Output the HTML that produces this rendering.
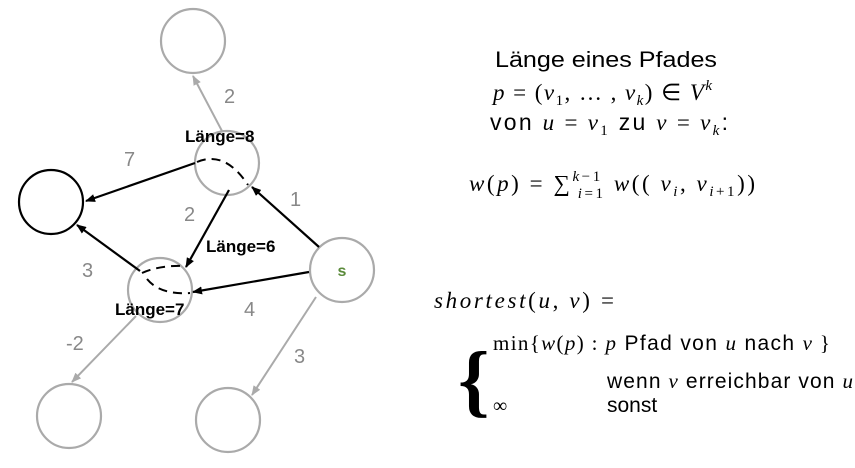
<!DOCTYPE html>
<html><head><meta charset="utf-8"><style>
body{margin:0;background:#fff;width:855px;height:463px;overflow:hidden}
svg text{font-family:"Liberation Sans",sans-serif}
.m{font-family:"Liberation Serif",serif;font-style:italic}
.r{font-family:"Liberation Serif",serif}
</style></head><body>
<svg width="855" height="463" viewBox="0 0 855 463">
<defs>
<marker id="ab" markerWidth="10" markerHeight="8" refX="9" refY="4" orient="auto" markerUnits="userSpaceOnUse"><path d="M0,0L10,4L0,8z" fill="#000"/></marker>
<marker id="ag" markerWidth="10" markerHeight="8" refX="9" refY="4" orient="auto" markerUnits="userSpaceOnUse"><path d="M0,0L10,4L0,8z" fill="#aaa"/></marker>
</defs>
<g fill="none" stroke="#aaa" stroke-width="2.2">
<circle cx="193" cy="41" r="32"/>
<circle cx="227" cy="163" r="32"/>
<circle cx="160" cy="290" r="32"/>
<circle cx="342" cy="270" r="32"/>
<circle cx="69" cy="416" r="32"/>
<circle cx="228" cy="420" r="32"/>
</g>
<circle cx="51" cy="202" r="32" fill="none" stroke="#000" stroke-width="2.2"/>
<g stroke="#aaa" stroke-width="2" marker-end="url(#ag)">
<line x1="222" y1="131" x2="193" y2="76"/>
<line x1="136" y1="316" x2="72" y2="382"/>
<line x1="316" y1="297" x2="252" y2="395"/>
</g>
<g stroke="#000" stroke-width="2.2" marker-end="url(#ab)">
<line x1="195" y1="163" x2="86" y2="201"/>
<line x1="319" y1="247" x2="252" y2="187"/>
<line x1="229" y1="190" x2="186" y2="267"/>
<line x1="140" y1="271" x2="77" y2="225"/>
<line x1="309" y1="272" x2="193" y2="292"/>
</g>
<g fill="none" stroke="#000" stroke-width="2" stroke-dasharray="9,6">
<path d="M197,162 Q225,150 248,185"/>
<path d="M142,273 Q160,265 184,266 M147,279 Q160,295 190,293"/>
</g>
<g fill="#888" font-size="20">
<text x="224" y="103">2</text>
<text x="124" y="166">7</text>
<text x="290" y="206">1</text>
<text x="184" y="221">2</text>
<text x="82" y="277">3</text>
<text x="244" y="316">4</text>
<text x="66" y="350">-2</text>
<text x="294" y="363">3</text>
</g>
<text x="342" y="276" font-size="16" font-weight="bold" fill="#5a8a3a" text-anchor="middle">s</text>
<g font-size="17" font-weight="bold" fill="#000">
<text x="185" y="142">Länge=8</text>
<text x="206" y="252">Länge=6</text>
<text x="115" y="315">Länge=7</text>
</g>
<g font-size="23" fill="#000">
<text x="495" y="67" font-size="22" textLength="222" lengthAdjust="spacingAndGlyphs">Länge eines Pfades</text>
<text x="493" y="100" textLength="219" lengthAdjust="spacing"><tspan class="m">p</tspan><tspan class="r"> = (</tspan><tspan class="m">v</tspan><tspan class="r" font-size="15" dy="5">1</tspan><tspan class="r" dy="-5">, … , </tspan><tspan class="m">v</tspan><tspan class="m" font-size="15" dy="5">k</tspan><tspan class="r" dy="-5">) ∈ </tspan><tspan class="m">V</tspan><tspan class="m" font-size="15" dy="-10">k</tspan></text>
<text x="490" y="130" textLength="238" lengthAdjust="spacing">von <tspan class="m">u</tspan><tspan class="r"> = </tspan><tspan class="m">v</tspan><tspan class="r" font-size="15" dy="5">1</tspan><tspan dy="-5"> zu </tspan><tspan class="m">v</tspan><tspan class="r"> = </tspan><tspan class="m">v</tspan><tspan class="m" font-size="15" dy="5">k</tspan><tspan dy="-5">:</tspan></text>
<text x="469" y="191" textLength="286" lengthAdjust="spacing"><tspan class="m">w</tspan><tspan class="r">(</tspan><tspan class="m">p</tspan><tspan class="r">) = ∑</tspan><tspan class="m" font-size="15" dy="-10">k</tspan><tspan class="r" font-size="15">−1</tspan><tspan class="m" font-size="15" dx="-25" dy="17">i</tspan><tspan class="r" font-size="15">=1</tspan><tspan class="m" dy="-7"> w</tspan><tspan class="r">((</tspan><tspan class="m"> v</tspan><tspan class="m" font-size="15" dy="5">i</tspan><tspan class="r" dy="-5">, </tspan><tspan class="m">v</tspan><tspan class="m" font-size="15" dy="5">i</tspan><tspan class="r" font-size="15">+1</tspan><tspan class="r" dy="-5">))</tspan></text>
</g>
<g font-size="23" fill="#000">
<text x="434" y="308" textLength="180" lengthAdjust="spacing"><tspan class="m">shortest</tspan><tspan class="r">(</tspan><tspan class="m">u</tspan><tspan class="r">, </tspan><tspan class="m">v</tspan><tspan class="r">) =</tspan></text>
<text x="458" y="407" class="r" font-size="80" font-weight="bold">{</text>
<text x="493" y="350" font-size="21" textLength="337" lengthAdjust="spacing"><tspan class="r">min{</tspan><tspan class="m">w</tspan><tspan class="r">(</tspan><tspan class="m">p</tspan><tspan class="r">) : </tspan><tspan class="m">p</tspan> Pfad von <tspan class="m">u</tspan> nach <tspan class="m">v</tspan><tspan class="r">  }</tspan></text>
<text x="607" y="388" font-size="21" textLength="246" lengthAdjust="spacing">wenn <tspan class="m">v</tspan> erreichbar von <tspan class="m">u</tspan></text>
<text x="493" y="412" class="r" font-size="20">∞</text>
<text x="607" y="412" font-size="21">sonst</text>
</g>
</svg>
</body></html>
